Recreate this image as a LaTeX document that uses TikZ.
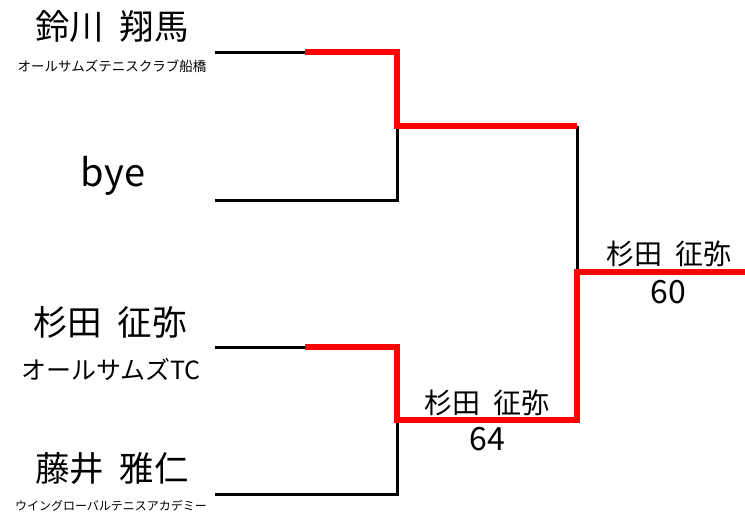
\documentclass[tikz,border=0pt]{standalone}
\usepackage{fontspec}
\setmainfont{Noto Sans CJK JP}
\newcommand{\gap}{\hspace{0.45em}}
\begin{document}
\begin{tikzpicture}[x=1pt,y=-1pt,
  blk/.style={draw=black,line width=3pt},
  win/.style={draw=red,line width=5.5pt,line join=miter},
  bigname/.style={font=\fontsize{34.5}{38}\selectfont,inner sep=0pt,anchor=center},
  club/.style={font=\fontsize{25}{28}\selectfont,inner sep=0pt,anchor=center},
  smallclub/.style={font=\fontsize{13.5}{15}\selectfont,inner sep=0pt,anchor=center},
  resname/.style={font=\fontsize{28}{30}\selectfont,inner sep=0pt,anchor=center},
  score/.style={font=\fontsize{32}{34}\selectfont,inner sep=0pt,anchor=center}]
\useasboundingbox (0,0) rectangle (745,515);
% coordinates
\coordinate (p1) at (215,52);
\coordinate (p1m) at (305,52);
\coordinate (q1t) at (397,52);
\coordinate (q1) at (397,126);
\coordinate (p2) at (215,200);
\coordinate (q1b) at (397,200);
\coordinate (p3) at (215,347);
\coordinate (p3m) at (305,347);
\coordinate (q2t) at (397,347);
\coordinate (q2) at (397,420);
\coordinate (p4) at (215,494);
\coordinate (q2b) at (397,494);
\coordinate (r1) at (577,126);
\coordinate (r2) at (577,420);
\coordinate (f) at (577,272);
\coordinate (fend) at (745,272);
% black lines
\draw[blk] (p1) -- (p1m);
\draw[blk] (p2) -- (q1b) -- (q1);
\draw[blk] (p3) -- (p3m);
\draw[blk] (p4) -- (q2b) -- (q2);
\draw[blk] (r1) -- (f);
% red winner lines
\draw[win] (p1m) -- (q1t) -- (q1) -- (r1);
\draw[win] (p3m) -- (q2t) -- (q2) -- (r2) -- (f) -- (fend);
% texts
\node[bigname] (n1) at (112,27) {鈴川\gap 翔馬};
\node[smallclub] (c1) at (112,66) {オールサムズテニスクラブ船橋};
\node[bigname,font=\fontsize{38}{40}\selectfont] (n2) at (113,176) {bye};
\node[bigname] (n3) at (110,322) {杉田\gap 征弥};
\node[club] (c3) at (111,369) {オールサムズTC};
\node[bigname] (n4) at (112,469) {藤井\gap 雅仁};
\node[smallclub,font=\fontsize{12}{14}\selectfont] (c4) at (111,506) {ウイングローバルテニスアカデミー};
\node[resname] (w1) at (487,403) {杉田\gap 征弥};
\node[score] (s1) at (487,439) {64};
\node[resname] (w2) at (669,254) {杉田\gap 征弥};
\node[score] (s2) at (668,292) {60};
\end{tikzpicture}
\end{document}
